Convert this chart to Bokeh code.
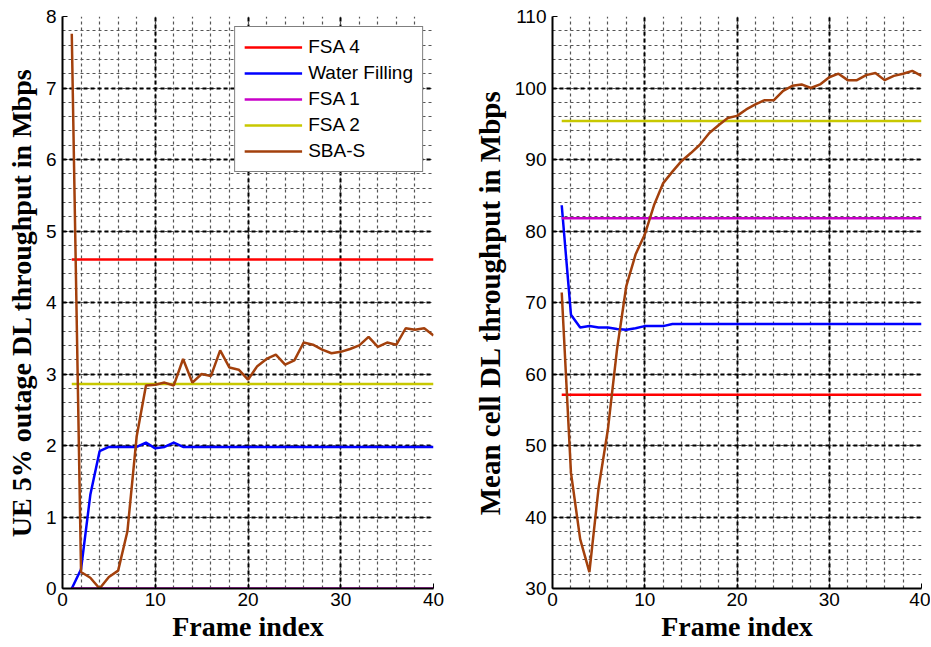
from bokeh.plotting import figure
from bokeh.layouts import row
from bokeh.models import SingleIntervalTicker, Legend, LegendItem, Range1d
from bokeh.embed import file_html
from bokeh.resources import INLINE

frames = list(range(1, 41))

# Left panel: UE 5% outage DL throughput (Mbps)
left_fsa4 = 4.60
left_fsa1 = 0.0
left_fsa2 = 2.86
left_wf = [0.0, 0.27, 1.31, 1.92, 1.98, 1.98, 1.98, 1.98, 2.04, 1.96,
           1.98, 2.04, 1.98, 1.98, 1.98, 1.98, 1.98, 1.98, 1.98, 1.98,
           1.98, 1.98, 1.98, 1.98, 1.98, 1.98, 1.98, 1.98, 1.98, 1.98,
           1.98, 1.98, 1.98, 1.98, 1.98, 1.98, 1.98, 1.98, 1.98, 1.98]
left_sba = [7.76, 0.23, 0.15, 0.0, 0.16, 0.25, 0.80, 2.13, 2.84, 2.85,
            2.88, 2.84, 3.21, 2.88, 3.00, 2.97, 3.33, 3.09, 3.06, 2.92,
            3.11, 3.21, 3.27, 3.13, 3.19, 3.44, 3.41, 3.34, 3.29, 3.31,
            3.35, 3.40, 3.52, 3.38, 3.44, 3.41, 3.64, 3.62, 3.64, 3.54]

# Right panel: Mean cell DL throughput (Mbps)
right_fsa4 = 57.1
right_fsa1 = 81.8
right_fsa2 = 95.4
right_wf = [83.6, 68.3, 66.5, 66.7, 66.5, 66.5, 66.3, 66.2, 66.4, 66.7,
            66.7, 66.7, 67.0, 67.0, 67.0, 67.0, 67.0, 67.0, 67.0, 67.0,
            67.0, 67.0, 67.0, 67.0, 67.0, 67.0, 67.0, 67.0, 67.0, 67.0,
            67.0, 67.0, 67.0, 67.0, 67.0, 67.0, 67.0, 67.0, 67.0, 67.0]
right_sba = [71.4, 46.2, 36.9, 32.3, 44.1, 52.2, 63.5, 72.3, 76.7, 79.5,
             83.6, 86.7, 88.3, 89.8, 90.9, 92.1, 93.7, 94.8, 95.8, 96.1,
             97.0, 97.7, 98.3, 98.3, 99.6, 100.3, 100.5, 100.0, 100.5, 101.5,
             102.0, 101.1, 101.1, 101.8, 102.1, 101.1, 101.7, 102.0, 102.4, 101.7]

series_names = ["FSA 4", "Water Filling", "FSA 1", "FSA 2", "SBA-S"]
colors = ["#ff0000", "#0000ff", "#c800c8", "#c8c800", "#a3400c"]

TICK_FONT = "Liberation Sans"
LABEL_FONT = "Liberation Serif"


def make_fig(width, border_left, border_right, yr, ymajor, ylabel, ylabel_size, ylabel_standoff):
    p = figure(width=width, height=646, output_backend="svg", toolbar_location=None,
               x_range=Range1d(0, 40), y_range=Range1d(*yr),
               min_border_left=border_left, min_border_right=border_right,
               min_border_top=16, min_border_bottom=58)
    p.outline_line_color = None
    p.background_fill_color = "white"
    p.border_fill_color = "white"
    p.xaxis.ticker = SingleIntervalTicker(interval=10, num_minor_ticks=5)
    p.yaxis.ticker = SingleIntervalTicker(interval=ymajor, num_minor_ticks=5)
    p.xgrid.ticker = p.xaxis.ticker
    p.ygrid.ticker = p.yaxis.ticker
    for g in (p.xgrid, p.ygrid):
        g.grid_line_color = "black"
        g.grid_line_dash = "4 3"
        g.grid_line_width = 2
        g.minor_grid_line_color = "#555555"
        g.minor_grid_line_dash = "3 3"
        g.minor_grid_line_width = 1.2
    for ax in (p.xaxis, p.yaxis):
        ax.axis_line_color = "black"
        ax.axis_line_width = 2
        ax.major_tick_in = 5
        ax.major_tick_out = 0
        ax.minor_tick_in = 0
        ax.minor_tick_out = 0
        ax.major_tick_line_color = "black"
        ax.major_label_text_font = TICK_FONT
        ax.major_label_text_font_size = "19px"
        ax.major_label_text_color = "black"
        ax.axis_label_text_font = LABEL_FONT
        ax.axis_label_text_font_style = "bold"
        ax.axis_label_text_color = "black"
    p.xaxis.axis_label_text_font_size = "28px"
    p.yaxis.axis_label_text_font_size = ylabel_size
    p.xaxis.major_label_standoff = 4
    p.yaxis.major_label_standoff = 6
    p.xaxis.axis_label = "Frame index"
    p.yaxis.axis_label = ylabel
    p.xaxis.axis_label_standoff = 2
    p.yaxis.axis_label_standoff = ylabel_standoff
    return p


def draw(p, fsa4, wf, fsa1, fsa2, sba):
    ends = [frames[0], frames[-1]]
    r = []
    r.append(p.line(ends, [fsa4, fsa4], line_color=colors[0], line_width=2.5))
    r.append(p.line(frames, wf, line_color=colors[1], line_width=2.5))
    r.append(p.line(ends, [fsa1, fsa1], line_color=colors[2], line_width=2.5))
    r.append(p.line(ends, [fsa2, fsa2], line_color=colors[3], line_width=2.5))
    r.append(p.line(frames, sba, line_color=colors[4], line_width=2.5))
    return r


p1 = make_fig(470, 62, 37, (0, 8), 1, "UE 5% outage DL throughput in Mbps", "28px", 6)
rs = draw(p1, left_fsa4, left_wf, left_fsa1, left_fsa2, left_sba)
legend = Legend(items=[LegendItem(label=n, renderers=[r]) for n, r in zip(series_names, rs)],
                location="top_right", margin=10, padding=9, spacing=4,
                glyph_width=58, glyph_height=20, label_standoff=6,
                label_text_font=TICK_FONT, label_text_font_size="19px",
                label_text_color="black",
                border_line_color="black", border_line_width=1.5,
                background_fill_color="white", background_fill_alpha=1.0)
p1.add_layout(legend, "center")

p2 = make_fig(460, 80, 9, (30, 110), 10, "Mean cell DL throughput in Mbps", "29px", 6)
draw(p2, right_fsa4, right_wf, right_fsa1, right_fsa2, right_sba)

layout = row(p1, p2)
open("out.html", "w").write(file_html(layout, INLINE))
